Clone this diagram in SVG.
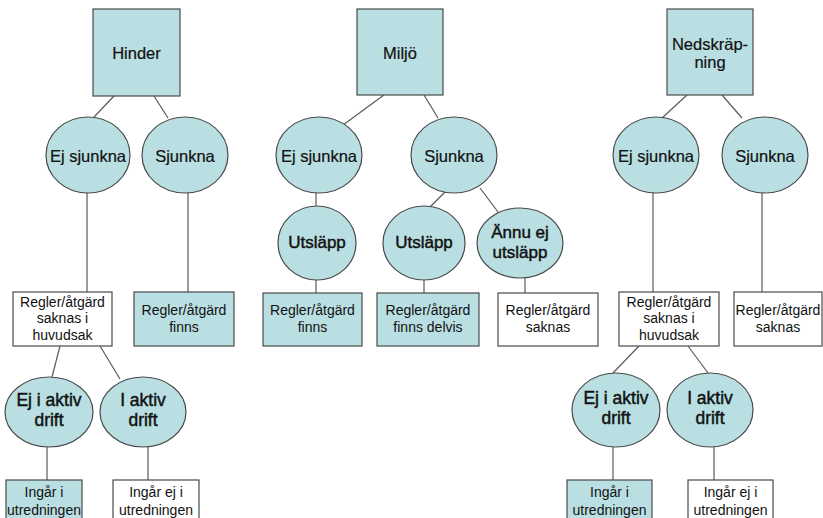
<svg xmlns="http://www.w3.org/2000/svg" width="823" height="518" viewBox="0 0 823 518">
<style>
.f{fill:#badfe2;stroke:#4a4a4a;stroke-width:1.2}
.w{fill:#ffffff;stroke:#4a4a4a;stroke-width:1.2}
.c line{stroke:#5a5a5a;stroke-width:1.2}
text{font-family:"Liberation Sans",Arial,sans-serif;fill:#111;text-anchor:middle}
.t{font-size:16.5px;stroke:#111;stroke-width:0.2}
.e{font-size:16.5px;stroke:#111;stroke-width:0.2}
.b{font-size:17px;stroke:#111;stroke-width:0.45}
.a{font-size:17.5px;stroke:#111;stroke-width:0.45}
.s{font-size:14px}
</style>
<rect width="823" height="518" fill="#fff"/>
<g class="c" id="connectors">
<line x1="114" y1="96" x2="94" y2="117"/>
<line x1="154" y1="96" x2="168" y2="118"/>
<line x1="87" y1="192" x2="87" y2="292"/>
<line x1="188" y1="192" x2="188" y2="292"/>
<line x1="60" y1="346" x2="52" y2="377"/>
<line x1="100" y1="346" x2="120" y2="379"/>
<line x1="47" y1="447" x2="47" y2="480"/>
<line x1="148" y1="447" x2="148" y2="480"/>
<line x1="384" y1="95" x2="343" y2="125"/>
<line x1="424" y1="95" x2="438" y2="118"/>
<line x1="316" y1="192" x2="316" y2="206"/>
<line x1="447" y1="190" x2="430" y2="207"/>
<line x1="480" y1="188" x2="498" y2="212"/>
<line x1="316" y1="280" x2="316" y2="293"/>
<line x1="424" y1="280" x2="424" y2="293"/>
<line x1="525" y1="277" x2="525" y2="293"/>
<line x1="687" y1="95" x2="662" y2="118"/>
<line x1="722" y1="95" x2="742" y2="118"/>
<line x1="653" y1="192" x2="653" y2="292"/>
<line x1="762" y1="192" x2="762" y2="292"/>
<line x1="639" y1="346" x2="613" y2="373"/>
<line x1="688" y1="346" x2="708" y2="373"/>
<line x1="613" y1="447" x2="613" y2="480"/>
<line x1="714" y1="447" x2="714" y2="480"/>
</g>
<g id="hinder"><rect class="f" x="93" y="9" width="87" height="87"/><text class="t" x="136.5" y="59">Hinder</text></g>
<g id="h-ejsjunkna"><ellipse class="f" cx="88" cy="155" rx="42" ry="38"/><text class="e" x="88" y="162">Ej sjunkna</text></g>
<g id="h-sjunkna"><ellipse class="f" cx="185" cy="155" rx="43" ry="38"/><text class="e" x="185" y="162">Sjunkna</text></g>
<g id="h-saknas"><rect class="w" x="13" y="292" width="99" height="54"/><text class="s" x="62.5" y="307">Regler/åtgärd</text><text class="s" x="62.5" y="323">saknas i</text><text class="s" x="62.5" y="340">huvudsak</text></g>
<g id="h-finns"><rect class="f" x="134" y="292" width="100" height="54"/><text class="s" x="184" y="315">Regler/åtgärd</text><text class="s" x="184" y="332">finns</text></g>
<g id="h-ejaktiv"><ellipse class="f" cx="49" cy="412" rx="44" ry="35"/><text class="a" x="49" y="406">Ej i aktiv</text><text class="a" x="49" y="426">drift</text></g>
<g id="h-aktiv"><ellipse class="f" cx="143" cy="412" rx="43" ry="35"/><text class="a" x="143" y="406">I aktiv</text><text class="a" x="143" y="426">drift</text></g>
<g id="h-ingar"><rect class="f" x="6" y="480" width="76" height="50"/><text class="s" x="44" y="497">Ingår i</text><text class="s" x="44" y="515">utredningen</text></g>
<g id="h-ingarej"><rect class="w" x="113" y="480" width="86" height="50"/><text class="s" x="156" y="497">Ingår ej i</text><text class="s" x="156" y="515">utredningen</text></g>
<g id="miljo"><rect class="f" x="357" y="9" width="86" height="86"/><text class="t" x="400" y="59">Miljö</text></g>
<g id="m-ejsjunkna"><ellipse class="f" cx="319" cy="155" rx="43" ry="38"/><text class="e" x="319" y="162">Ej sjunkna</text></g>
<g id="m-sjunkna"><ellipse class="f" cx="454" cy="155" rx="43" ry="38"/><text class="e" x="454" y="162">Sjunkna</text></g>
<g id="m-utslapp1"><ellipse class="f" cx="317" cy="243" rx="39" ry="37"/><text class="b" x="317" y="248">Utsläpp</text></g>
<g id="m-utslapp2"><ellipse class="f" cx="424" cy="243" rx="41" ry="37"/><text class="b" x="424" y="248">Utsläpp</text></g>
<g id="m-annu"><ellipse class="f" cx="520" cy="243" rx="43" ry="35"/><text class="b" x="520" y="238">Ännu ej</text><text class="b" x="520" y="258">utsläpp</text></g>
<g id="m-finns"><rect class="f" x="263" y="293" width="99" height="53"/><text class="s" x="312.5" y="315">Regler/åtgärd</text><text class="s" x="312.5" y="332">finns</text></g>
<g id="m-delvis"><rect class="f" x="377" y="293" width="102" height="53"/><text class="s" x="428" y="315">Regler/åtgärd</text><text class="s" x="428" y="332">finns delvis</text></g>
<g id="m-saknas"><rect class="w" x="498" y="293" width="100" height="53"/><text class="s" x="548" y="315">Regler/åtgärd</text><text class="s" x="548" y="332">saknas</text></g>
<g id="nedskrapning"><rect class="f" x="667" y="9" width="86" height="86"/><text class="t" x="710" y="50">Nedskräp-</text><text class="t" x="710" y="68">ning</text></g>
<g id="n-ejsjunkna"><ellipse class="f" cx="656" cy="155" rx="43" ry="38"/><text class="e" x="656" y="162">Ej sjunkna</text></g>
<g id="n-sjunkna"><ellipse class="f" cx="765" cy="155" rx="43" ry="38"/><text class="e" x="765" y="162">Sjunkna</text></g>
<g id="n-saknasih"><rect class="w" x="619" y="292" width="100" height="54"/><text class="s" x="669" y="307">Regler/åtgärd</text><text class="s" x="669" y="323">saknas i</text><text class="s" x="669" y="340">huvudsak</text></g>
<g id="n-saknas"><rect class="w" x="734" y="292" width="88" height="54"/><text class="s" x="778" y="315">Regler/åtgärd</text><text class="s" x="778" y="332">saknas</text></g>
<g id="n-ejaktiv"><ellipse class="f" cx="616" cy="410" rx="44" ry="37"/><text class="a" x="616" y="404">Ej i aktiv</text><text class="a" x="616" y="424">drift</text></g>
<g id="n-aktiv"><ellipse class="f" cx="710" cy="410" rx="43" ry="37"/><text class="a" x="710" y="404">I aktiv</text><text class="a" x="710" y="424">drift</text></g>
<g id="n-ingar"><rect class="f" x="567" y="480" width="85" height="50"/><text class="s" x="609.5" y="497">Ingår i</text><text class="s" x="609.5" y="515">utredningen</text></g>
<g id="n-ingarej"><rect class="w" x="688" y="480" width="85" height="50"/><text class="s" x="730.5" y="497">Ingår ej i</text><text class="s" x="730.5" y="515">utredningen</text></g>
</svg>
